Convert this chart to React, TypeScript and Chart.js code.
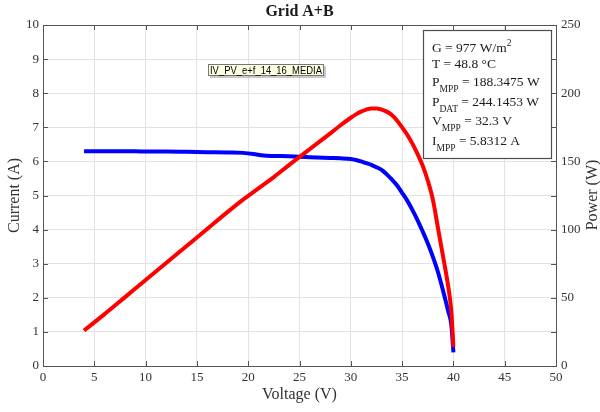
import React, { useEffect, useRef } from "react";
import { Chart, registerables } from "chart.js";
Chart.register(...registerables);

const chartTitle = "Grid A+B";
const xTitle = "Voltage (V)";
const yTitle = "Current (A)";
const y1Title = "Power (W)";
const fileLabel = "IV_PV_e+f_14_16_MEDIA";

const voltage = [4, 6, 8, 10, 12, 14, 16, 18, 19.5, 20.5, 21.5, 22.5, 24, 26, 28, 29, 30, 30.5, 31, 31.5, 32, 32.5, 33, 33.5, 34, 34.5, 35, 35.5, 36, 36.5, 37, 37.5, 38, 38.5, 39, 39.5, 39.8, 40];
const currentA = [6.3, 6.3, 6.3, 6.29, 6.29, 6.28, 6.27, 6.26, 6.25, 6.22, 6.17, 6.16, 6.15, 6.12, 6.1, 6.09, 6.07, 6.04, 6.0, 5.95, 5.9, 5.83, 5.75, 5.62, 5.47, 5.3, 5.08, 4.85, 4.58, 4.28, 3.95, 3.6, 3.2, 2.75, 2.2, 1.6, 1.2, 0.4];
const powerW = [26, 38, 50.5, 63, 75.5, 88, 100.5, 113, 122, 127.5, 133, 138.5, 147.5, 159, 170.5, 176.5, 182, 184.5, 186.5, 188, 188.8, 188.8, 188, 186.5, 184, 180, 175, 169.5, 163, 155.5, 147, 136, 122, 101, 80, 58, 40, 14];

const xTicks = [0, 5, 10, 15, 20, 25, 30, 35, 40, 45, 50];
const yTicks = [0, 1, 2, 3, 4, 5, 6, 7, 8, 9, 10];
const y1Ticks = [0, 50, 100, 150, 200, 250];
const y1MinorTicks = [0, 25, 50, 75, 100, 125, 150, 175, 200, 225, 250];

const infoLines: [string, string][][] = [
  [["G = 977 W/m", ""], ["2", "sup"]],
  [["T = 48.8 °C", ""]],
  [["P", ""], ["MPP", "sub"], [" = 188.3475 W", ""]],
  [["P", ""], ["DAT", "sub"], [" = 244.1453 W", ""]],
  [["V", ""], ["MPP", "sub"], [" = 32.3 V", ""]],
  [["I", ""], ["MPP", "sub"], [" = 5.8312 A", ""]],
];

const SERIF = "'Liberation Serif', 'Times New Roman', serif";
const axisColor = "#555555";
const tickColor = "#333333";
const gridColor = "#e3e3e3";

const overlay = {
  id: "overlay",
  afterDraw(chart: any) {
    const { ctx, chartArea: a, scales } = chart;
    ctx.save();
    ctx.strokeStyle = axisColor;
    ctx.lineWidth = 1;
    ctx.beginPath();
    ctx.moveTo(a.left, Math.round(a.top) + 0.5);
    ctx.lineTo(a.right, Math.round(a.top) + 0.5);
    ctx.stroke();
    const tl = 5;
    ctx.beginPath();
    for (const v of xTicks) {
      const px = Math.round(scales.x.getPixelForValue(v)) + 0.5;
      ctx.moveTo(px, a.bottom);
      ctx.lineTo(px, a.bottom - tl);
      ctx.moveTo(px, a.top);
      ctx.lineTo(px, a.top + tl);
    }
    for (const v of yTicks) {
      const py = Math.round(scales.y.getPixelForValue(v)) + 0.5;
      ctx.moveTo(a.left, py);
      ctx.lineTo(a.left + tl, py);
    }
    for (const v of y1MinorTicks) {
      const py = Math.round(scales.y1.getPixelForValue(v)) + 0.5;
      ctx.moveTo(a.right, py);
      ctx.lineTo(a.right - tl, py);
    }
    ctx.stroke();

    ctx.fillStyle = "#1a1a1a";
    ctx.textAlign = "center";
    ctx.textBaseline = "middle";
    ctx.font = `bold 16px ${SERIF}`;
    ctx.fillText(chartTitle, (a.left + a.right) / 2, 12);
    ctx.font = `16px ${SERIF}`;
    ctx.fillStyle = "#333333";
    ctx.fillText(xTitle, (a.left + a.right) / 2, 395);
    ctx.save();
    ctx.translate(15, (a.top + a.bottom) / 2);
    ctx.rotate(-Math.PI / 2);
    ctx.fillText(yTitle, 0, 0);
    ctx.restore();
    ctx.save();
    ctx.translate(593, 195);
    ctx.rotate(-Math.PI / 2);
    ctx.fillText(y1Title, 0, 0);
    ctx.restore();

    ctx.fillStyle = "#ffffff";
    ctx.fillRect(423.5, 30.5, 128, 128);
    ctx.strokeStyle = "#4d4d4d";
    ctx.lineWidth = 1.2;
    ctx.strokeRect(423.5, 30.5, 128, 128);
    ctx.fillStyle = "#1a1a1a";
    ctx.textAlign = "left";
    ctx.textBaseline = "alphabetic";
    const baselines = [52, 68, 86, 106, 125, 145];
    infoLines.forEach((segs, i) => {
      let x = 432;
      const by = baselines[i];
      for (const [t, kind] of segs) {
        if (kind === "sub") {
          ctx.font = `9.5px ${SERIF}`;
          ctx.fillText(t, x, by + 6);
        } else if (kind === "sup") {
          ctx.font = `9.5px ${SERIF}`;
          ctx.fillText(t, x, by - 6);
        } else {
          ctx.font = `13.5px ${SERIF}`;
          ctx.fillText(t, x, by);
        }
        x += ctx.measureText(t).width;
      }
    });

    const lx = 208, ly = 64, lw = 116, lh = 12;
    ctx.fillStyle = "rgba(120,120,120,0.4)";
    ctx.fillRect(lx + 2, ly + 2, lw, lh);
    ctx.fillStyle = "#ffffe1";
    ctx.fillRect(lx, ly, lw, lh);
    ctx.strokeStyle = "#767676";
    ctx.lineWidth = 1;
    ctx.strokeRect(lx + 0.5, ly + 0.5, lw - 1, lh - 1);
    ctx.fillStyle = "#000000";
    ctx.font = `11px 'Liberation Sans', Arial, sans-serif`;
    ctx.textAlign = "center";
    ctx.textBaseline = "middle";
    ctx.fillText(fileLabel, lx + lw / 2, ly + lh / 2 + 0.5, lw - 4);
    ctx.restore();
  },
};

export default function App() {
  const ref = useRef<HTMLCanvasElement>(null);
  useEffect(() => {
    if (!ref.current) return;
    const tickFont = { family: SERIF, size: 13 };
    const chart = new Chart(ref.current, {
      type: "scatter",
      data: {
        datasets: [
          {
            label: "Power",
            data: voltage.map((v, i) => ({ x: v, y: powerW[i] })),
            borderColor: "#ff0000",
            backgroundColor: "#ff0000",
            borderWidth: 4,
            pointRadius: 0,
            showLine: true,
            cubicInterpolationMode: "monotone",
            yAxisID: "y1",
          },
          {
            label: "Current",
            data: voltage.map((v, i) => ({ x: v, y: currentA[i] })),
            borderColor: "#0000ff",
            backgroundColor: "#0000ff",
            borderWidth: 4,
            pointRadius: 0,
            showLine: true,
            cubicInterpolationMode: "monotone",
            yAxisID: "y",
          },
        ],
      },
      options: {
        responsive: false,
        devicePixelRatio: 1,
        animation: false,
        layout: { padding: { top: 25, left: 0, right: 0, bottom: 0 } },
        plugins: { legend: { display: false }, tooltip: { enabled: false }, title: { display: false } },
        scales: {
          x: {
            type: "linear",
            min: 0,
            max: 50,
            afterBuildTicks: (s: any) => { s.ticks = xTicks.map((v) => ({ value: v })); },
            afterFit: (s: any) => { s.height = 46; },
            ticks: { font: tickFont, color: tickColor, padding: 4, maxRotation: 0, autoSkip: false },
            grid: { color: gridColor, drawTicks: false },
            border: { color: axisColor },
          },
          y: {
            type: "linear",
            position: "left",
            min: 0,
            max: 10,
            afterBuildTicks: (s: any) => { s.ticks = yTicks.map((v) => ({ value: v })); },
            afterFit: (s: any) => { s.width = 43; },
            ticks: { font: tickFont, color: tickColor, padding: 4, autoSkip: false },
            grid: { color: gridColor, drawTicks: false },
            border: { color: axisColor },
          },
          y1: {
            type: "linear",
            position: "right",
            min: 0,
            max: 250,
            afterBuildTicks: (s: any) => { s.ticks = y1Ticks.map((v) => ({ value: v })); },
            afterFit: (s: any) => { s.width = 44; },
            ticks: { font: tickFont, color: tickColor, padding: 5, autoSkip: false },
            grid: { drawOnChartArea: false, drawTicks: false },
            border: { color: axisColor },
          },
        },
      },
      plugins: [overlay],
    } as any);
    return () => chart.destroy();
  }, []);
  return (
    <div style={{ position: "absolute", left: 0, top: 0, width: 600, height: 412 }}>
      <canvas ref={ref} width={600} height={412} />
    </div>
  );
}
